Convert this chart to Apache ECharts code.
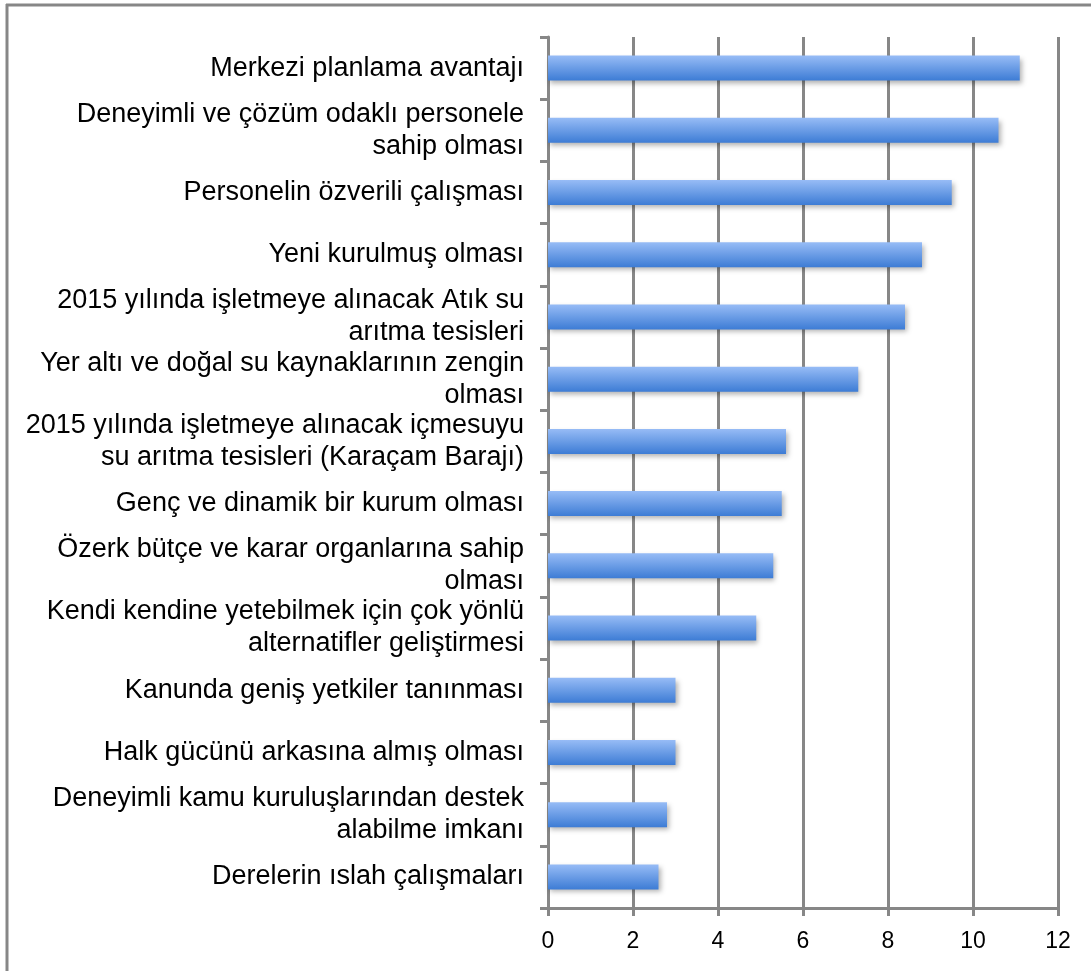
<!DOCTYPE html>
<html>
<head>
<meta charset="utf-8">
<script src="https://cdn.jsdelivr.net/npm/echarts@6/dist/echarts.min.js"></script>
<style>
html,body{margin:0;padding:0;background:#fff;}
#c{width:1091px;height:971px;}
</style>
</head>
<body>
<div id="c"></div>
<script>
const categories = [
  "Merkezi planlama avantajı",
  "Deneyimli ve çözüm odaklı personele\nsahip olması",
  "Personelin özverili çalışması",
  "Yeni kurulmuş olması",
  "2015 yılında işletmeye alınacak Atık su\narıtma tesisleri",
  "Yer altı ve doğal su kaynaklarının zengin\nolması",
  "2015 yılında işletmeye alınacak içmesuyu\nsu arıtma tesisleri (Karaçam Barajı)",
  "Genç ve dinamik bir kurum olması",
  "Özerk bütçe ve karar organlarına sahip\nolması",
  "Kendi kendine yetebilmek için çok yönlü\nalternatifler geliştirmesi",
  "Kanunda geniş yetkiler tanınması",
  "Halk gücünü arkasına almış olması",
  "Deneyimli kamu kuruluşlarından destek\nalabilme imkanı",
  "Derelerin ıslah çalışmaları"
];
const values = [11.1, 10.6, 9.5, 8.8, 8.4, 7.3, 5.6, 5.5, 5.3, 4.9, 3.0, 3.0, 2.8, 2.6];
const xTicks = { min: 0, max: 12, interval: 2 };

const chart = echarts.init(document.getElementById('c'), null, { renderer: 'canvas' });
const gray = '#878787';
chart.setOption({
  animation: false,
  backgroundColor: '#fff',
  graphic: [
    { type: 'line', shape: { x1: 6, y1: 5, x2: 1091, y2: 5 }, style: { stroke: gray, lineWidth: 3 } },
    { type: 'line', shape: { x1: 7, y1: 4, x2: 7, y2: 971 }, style: { stroke: gray, lineWidth: 3 } }
  ],
  grid: { left: 548, right: 33, top: 37, bottom: 63 },
  xAxis: {
    type: 'value',
    min: xTicks.min, max: xTicks.max, interval: xTicks.interval,
    axisLine: { show: true, lineStyle: { color: gray, width: 3 } },
    axisTick: { show: true, length: 8, lineStyle: { color: gray, width: 3 } },
    axisLabel: { color: '#000', fontFamily: 'Liberation Sans, Arial', fontSize: 23, margin: 22 },
    splitLine: { show: true, lineStyle: { color: gray, width: 3 } }
  },
  yAxis: {
    type: 'category',
    inverse: true,
    data: categories,
    axisLine: { show: true, lineStyle: { color: gray, width: 3 } },
    axisTick: { show: true, length: 8, lineStyle: { color: gray, width: 3 } },
    axisLabel: { color: '#000', fontFamily: 'Liberation Sans, Arial', fontSize: 27, lineHeight: 32, margin: 24, align: 'right' },
    splitLine: { show: false }
  },
  series: [{
    type: 'bar',
    data: values,
    barWidth: 25,
    itemStyle: {
      color: new echarts.graphic.LinearGradient(0, 0, 0, 1, [
        { offset: 0, color: '#97bcf6' },
        { offset: 1, color: '#3d7cd5' }
      ]),
      shadowColor: 'rgba(0,0,0,0.3)',
      shadowBlur: 5,
      shadowOffsetX: 2,
      shadowOffsetY: 3
    }
  }]
});
</script>
</body>
</html>
